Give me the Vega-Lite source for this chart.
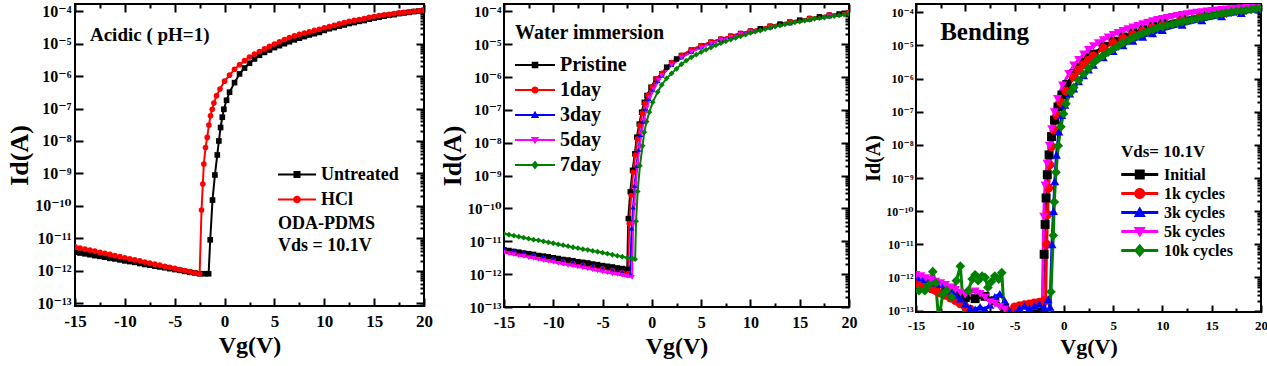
{
"$schema": "https://vega.github.io/schema/vega-lite/v6.json",
"background": "white",
"padding": {"left": 5, "top": 2, "right": 0, "bottom": 0},
"spacing": 4,
"resolve": {"scale": {"color": "independent", "shape": "independent"}, "legend": {"color": "independent", "shape": "independent"}},
"config": {
  "font": "Liberation Serif",
  "view": {"stroke": "black", "strokeWidth": 2},
  "axis": {"grid": false, "domain": false, "minExtent": 0, "labelFont": "Liberation Serif, DejaVu Serif", "labelFontWeight": "bold", "titleFont": "Liberation Serif", "titleFontWeight": "bold", "tickColor": "black", "labelColor": "black", "titleColor": "black", "tickWidth": 2, "labelFlush": false, "labelOverlap": false, "labelBound": false},
  "legend": {"labelFont": "Liberation Serif", "labelFontWeight": "bold", "titleFont": "Liberation Serif", "titleFontWeight": "bold", "labelColor": "black", "titleColor": "black", "padding": 0}
},
"datasets": {
"p1": [
{"s":"Untreated","v":-15,"i":3.7e-12},{"s":"Untreated","v":-14.5,"i":3.5e-12},{"s":"Untreated","v":-14,"i":3.3e-12},{"s":"Untreated","v":-13.5,"i":3.1e-12},{"s":"Untreated","v":-13,"i":2.9e-12},{"s":"Untreated","v":-12.5,"i":2.75e-12},{"s":"Untreated","v":-12,"i":2.6e-12},{"s":"Untreated","v":-11.5,"i":2.4e-12},{"s":"Untreated","v":-11,"i":2.3e-12},{"s":"Untreated","v":-10.5,"i":2.15e-12},{"s":"Untreated","v":-10,"i":2.0e-12},{"s":"Untreated","v":-9.5,"i":1.9e-12},{"s":"Untreated","v":-9,"i":1.8e-12},{"s":"Untreated","v":-8.5,"i":1.66e-12},{"s":"Untreated","v":-8,"i":1.55e-12},{"s":"Untreated","v":-7.5,"i":1.48e-12},{"s":"Untreated","v":-7,"i":1.38e-12},{"s":"Untreated","v":-6.5,"i":1.3e-12},{"s":"Untreated","v":-6,"i":1.23e-12},{"s":"Untreated","v":-5.5,"i":1.15e-12},{"s":"Untreated","v":-5,"i":1.08e-12},{"s":"Untreated","v":-4.5,"i":1.02e-12},{"s":"Untreated","v":-4,"i":9.5e-13},{"s":"Untreated","v":-3.5,"i":8.9e-13},{"s":"Untreated","v":-3,"i":8.5e-13},{"s":"Untreated","v":-2.5,"i":8e-13},{"s":"Untreated","v":-2,"i":8e-13},{"s":"Untreated","v":-1.6,"i":8e-13},{"s":"Untreated","v":-1.44,"i":8.9e-12},{"s":"Untreated","v":-1.21,"i":1.5e-10},{"s":"Untreated","v":-0.97,"i":8.9e-10},{"s":"Untreated","v":-0.73,"i":3.7e-9},{"s":"Untreated","v":-0.57,"i":1e-8},{"s":"Untreated","v":-0.4,"i":2.6e-8},{"s":"Untreated","v":-0.23,"i":5.4e-8},{"s":"Untreated","v":-0.07,"i":9.5e-8},{"s":"Untreated","v":0.2,"i":1.8e-7},{"s":"Untreated","v":0.5,"i":3.2e-7},{"s":"Untreated","v":1,"i":6.3e-7},{"s":"Untreated","v":1.5,"i":1.17e-6},{"s":"Untreated","v":2,"i":1.78e-6},{"s":"Untreated","v":2.5,"i":2.5e-6},{"s":"Untreated","v":3,"i":3.4e-6},{"s":"Untreated","v":3.5,"i":4.4e-6},{"s":"Untreated","v":4,"i":5.4e-6},{"s":"Untreated","v":4.5,"i":6.4e-6},{"s":"Untreated","v":5,"i":7.6e-6},{"s":"Untreated","v":5.5,"i":8.7e-6},{"s":"Untreated","v":6,"i":1.0e-5},{"s":"Untreated","v":6.5,"i":1.15e-5},{"s":"Untreated","v":7,"i":1.32e-5},{"s":"Untreated","v":7.5,"i":1.48e-5},{"s":"Untreated","v":8,"i":1.66e-5},{"s":"Untreated","v":8.5,"i":1.86e-5},{"s":"Untreated","v":9,"i":2.04e-5},{"s":"Untreated","v":9.5,"i":2.24e-5},{"s":"Untreated","v":10,"i":2.57e-5},{"s":"Untreated","v":10.5,"i":2.9e-5},{"s":"Untreated","v":11,"i":3.16e-5},{"s":"Untreated","v":11.5,"i":3.5e-5},{"s":"Untreated","v":12,"i":3.8e-5},{"s":"Untreated","v":12.5,"i":4.2e-5},{"s":"Untreated","v":13,"i":4.5e-5},{"s":"Untreated","v":13.5,"i":4.9e-5},{"s":"Untreated","v":14,"i":5.2e-5},{"s":"Untreated","v":14.5,"i":5.75e-5},{"s":"Untreated","v":15,"i":6.2e-5},{"s":"Untreated","v":15.5,"i":6.6e-5},{"s":"Untreated","v":16,"i":7.1e-5},{"s":"Untreated","v":16.5,"i":7.6e-5},{"s":"Untreated","v":17,"i":7.9e-5},{"s":"Untreated","v":17.5,"i":8.5e-5},{"s":"Untreated","v":18,"i":8.9e-5},{"s":"Untreated","v":18.5,"i":9.3e-5},{"s":"Untreated","v":19,"i":9.8e-5},{"s":"Untreated","v":19.5,"i":1.02e-4},{"s":"Untreated","v":20,"i":1.07e-4},
{"s":"HCl","v":-15,"i":5.4e-12},{"s":"HCl","v":-14.5,"i":5.0e-12},{"s":"HCl","v":-14,"i":4.6e-12},{"s":"HCl","v":-13.5,"i":4.3e-12},{"s":"HCl","v":-13,"i":4.0e-12},{"s":"HCl","v":-12.5,"i":3.65e-12},{"s":"HCl","v":-12,"i":3.4e-12},{"s":"HCl","v":-11.5,"i":3.16e-12},{"s":"HCl","v":-11,"i":2.9e-12},{"s":"HCl","v":-10.5,"i":2.7e-12},{"s":"HCl","v":-10,"i":2.5e-12},{"s":"HCl","v":-9.5,"i":2.3e-12},{"s":"HCl","v":-9,"i":2.14e-12},{"s":"HCl","v":-8.5,"i":2.0e-12},{"s":"HCl","v":-8,"i":1.85e-12},{"s":"HCl","v":-7.5,"i":1.7e-12},{"s":"HCl","v":-7,"i":1.58e-12},{"s":"HCl","v":-6.5,"i":1.47e-12},{"s":"HCl","v":-6,"i":1.35e-12},{"s":"HCl","v":-5.5,"i":1.26e-12},{"s":"HCl","v":-5,"i":1.17e-12},{"s":"HCl","v":-4.5,"i":1.07e-12},{"s":"HCl","v":-4,"i":1.0e-12},{"s":"HCl","v":-3.5,"i":9.3e-13},{"s":"HCl","v":-3,"i":8.5e-13},{"s":"HCl","v":-2.5,"i":8e-13},{"s":"HCl","v":-2.31,"i":7.4e-11},{"s":"HCl","v":-2.18,"i":4.7e-10},{"s":"HCl","v":-2.08,"i":1.95e-9},{"s":"HCl","v":-1.91,"i":6.3e-9},{"s":"HCl","v":-1.74,"i":1.29e-8},{"s":"HCl","v":-1.57,"i":3.1e-8},{"s":"HCl","v":-1.41,"i":6.0e-8},{"s":"HCl","v":-1.24,"i":9.5e-8},{"s":"HCl","v":-1.07,"i":1.48e-7},{"s":"HCl","v":-0.8,"i":2.5e-7},{"s":"HCl","v":-0.46,"i":4.0e-7},{"s":"HCl","v":0,"i":7.0e-7},{"s":"HCl","v":0.5,"i":1.07e-6},{"s":"HCl","v":1,"i":1.62e-6},{"s":"HCl","v":1.5,"i":2.24e-6},{"s":"HCl","v":2,"i":3.0e-6},{"s":"HCl","v":2.5,"i":3.9e-6},{"s":"HCl","v":3,"i":4.8e-6},{"s":"HCl","v":3.5,"i":5.75e-6},{"s":"HCl","v":4,"i":6.9e-6},{"s":"HCl","v":4.5,"i":8.3e-6},{"s":"HCl","v":5,"i":9.8e-6},{"s":"HCl","v":5.5,"i":1.15e-5},{"s":"HCl","v":6,"i":1.35e-5},{"s":"HCl","v":6.5,"i":1.55e-5},{"s":"HCl","v":7,"i":1.74e-5},{"s":"HCl","v":7.5,"i":1.95e-5},{"s":"HCl","v":8,"i":2.14e-5},{"s":"HCl","v":8.5,"i":2.34e-5},{"s":"HCl","v":9,"i":2.57e-5},{"s":"HCl","v":9.5,"i":2.8e-5},{"s":"HCl","v":10,"i":3.1e-5},{"s":"HCl","v":10.5,"i":3.4e-5},{"s":"HCl","v":11,"i":3.7e-5},{"s":"HCl","v":11.5,"i":4.1e-5},{"s":"HCl","v":12,"i":4.5e-5},{"s":"HCl","v":12.5,"i":4.9e-5},{"s":"HCl","v":13,"i":5.25e-5},{"s":"HCl","v":13.5,"i":5.6e-5},{"s":"HCl","v":14,"i":6.0e-5},{"s":"HCl","v":14.5,"i":6.5e-5},{"s":"HCl","v":15,"i":6.9e-5},{"s":"HCl","v":15.5,"i":7.4e-5},{"s":"HCl","v":16,"i":7.8e-5},{"s":"HCl","v":16.5,"i":8.1e-5},{"s":"HCl","v":17,"i":8.5e-5},{"s":"HCl","v":17.5,"i":8.9e-5},{"s":"HCl","v":18,"i":9.3e-5},{"s":"HCl","v":18.5,"i":9.6e-5},{"s":"HCl","v":19,"i":1.0e-4},{"s":"HCl","v":19.5,"i":1.03e-4},{"s":"HCl","v":20,"i":1.07e-4}
],
"p2": [
{"s":"Pristine","v":-15,"i":5.5e-12},{"s":"Pristine","v":-14.5,"i":5.25e-12},{"s":"Pristine","v":-14,"i":4.9e-12},{"s":"Pristine","v":-13.5,"i":4.7e-12},{"s":"Pristine","v":-13,"i":4.4e-12},{"s":"Pristine","v":-12.5,"i":4.2e-12},{"s":"Pristine","v":-12,"i":4.0e-12},{"s":"Pristine","v":-11.5,"i":3.7e-12},{"s":"Pristine","v":-11,"i":3.55e-12},{"s":"Pristine","v":-10.5,"i":3.4e-12},{"s":"Pristine","v":-10,"i":3.16e-12},{"s":"Pristine","v":-9.5,"i":3.0e-12},{"s":"Pristine","v":-9,"i":2.8e-12},{"s":"Pristine","v":-8.5,"i":2.7e-12},{"s":"Pristine","v":-8,"i":2.57e-12},{"s":"Pristine","v":-7.5,"i":2.4e-12},{"s":"Pristine","v":-7,"i":2.3e-12},{"s":"Pristine","v":-6.5,"i":2.2e-12},{"s":"Pristine","v":-6,"i":2.04e-12},{"s":"Pristine","v":-5.5,"i":1.95e-12},{"s":"Pristine","v":-5,"i":1.82e-12},{"s":"Pristine","v":-4.5,"i":1.74e-12},{"s":"Pristine","v":-4,"i":1.66e-12},{"s":"Pristine","v":-3.5,"i":1.55e-12},{"s":"Pristine","v":-3,"i":1.48e-12},{"s":"Pristine","v":-2.5,"i":1.41e-12},{"s":"Pristine","v":-2.39,"i":4.9e-11},{"s":"Pristine","v":-2.19,"i":3.2e-10},{"s":"Pristine","v":-1.96,"i":1.45e-9},{"s":"Pristine","v":-1.73,"i":4.6e-9},{"s":"Pristine","v":-1.53,"i":1.48e-8},{"s":"Pristine","v":-1.28,"i":3.7e-8},{"s":"Pristine","v":-1.04,"i":8.5e-8},{"s":"Pristine","v":-0.77,"i":1.7e-7},{"s":"Pristine","v":-0.5,"i":2.75e-7},{"s":"Pristine","v":-0.09,"i":4.9e-7},{"s":"Pristine","v":0.42,"i":8.7e-7},{"s":"Pristine","v":1,"i":1.26e-6},{"s":"Pristine","v":1.5,"i":2.0e-6},{"s":"Pristine","v":2,"i":2.7e-6},{"s":"Pristine","v":2.5,"i":3.55e-6},{"s":"Pristine","v":3,"i":4.5e-6},{"s":"Pristine","v":4,"i":6.6e-6},{"s":"Pristine","v":5,"i":8.9e-6},{"s":"Pristine","v":6,"i":1.15e-5},{"s":"Pristine","v":7,"i":1.41e-5},{"s":"Pristine","v":8,"i":1.74e-5},{"s":"Pristine","v":9,"i":2.1e-5},{"s":"Pristine","v":10,"i":2.5e-5},{"s":"Pristine","v":11,"i":2.95e-5},{"s":"Pristine","v":12,"i":3.5e-5},{"s":"Pristine","v":13,"i":4.1e-5},{"s":"Pristine","v":14,"i":4.7e-5},{"s":"Pristine","v":15,"i":5.4e-5},{"s":"Pristine","v":16,"i":6.0e-5},{"s":"Pristine","v":17,"i":6.8e-5},{"s":"Pristine","v":18,"i":7.6e-5},{"s":"Pristine","v":19,"i":8.3e-5},{"s":"Pristine","v":20,"i":9.1e-5},
{"s":"1day","v":-15,"i":5.0e-12},{"s":"1day","v":-14,"i":4.5e-12},{"s":"1day","v":-13,"i":3.9e-12},{"s":"1day","v":-12,"i":3.5e-12},{"s":"1day","v":-11,"i":3.0e-12},{"s":"1day","v":-10,"i":2.7e-12},{"s":"1day","v":-9,"i":2.4e-12},{"s":"1day","v":-8,"i":2.1e-12},{"s":"1day","v":-7,"i":1.86e-12},{"s":"1day","v":-6,"i":1.62e-12},{"s":"1day","v":-5,"i":1.45e-12},{"s":"1day","v":-4,"i":1.29e-12},{"s":"1day","v":-3,"i":1.12e-12},{"s":"1day","v":-2.4,"i":1.05e-12},{"s":"1day","v":-2.3,"i":3.5e-11},{"s":"1day","v":-2.1,"i":2.5e-10},{"s":"1day","v":-1.9,"i":1.26e-9},{"s":"1day","v":-1.68,"i":4.2e-9},{"s":"1day","v":-1.47,"i":1.3e-8},{"s":"1day","v":-1.22,"i":3.4e-8},{"s":"1day","v":-0.98,"i":7.9e-8},{"s":"1day","v":-0.7,"i":1.6e-7},{"s":"1day","v":-0.4,"i":2.8e-7},{"s":"1day","v":0,"i":5.0e-7},{"s":"1day","v":0.5,"i":8.9e-7},{"s":"1day","v":1,"i":1.3e-6},{"s":"1day","v":2,"i":2.75e-6},{"s":"1day","v":3,"i":4.6e-6},{"s":"1day","v":4,"i":6.8e-6},{"s":"1day","v":5,"i":9.1e-6},{"s":"1day","v":6,"i":1.17e-5},{"s":"1day","v":7,"i":1.45e-5},{"s":"1day","v":8,"i":1.78e-5},{"s":"1day","v":9,"i":2.14e-5},{"s":"1day","v":10,"i":2.57e-5},{"s":"1day","v":12,"i":3.6e-5},{"s":"1day","v":14,"i":4.8e-5},{"s":"1day","v":16,"i":6.2e-5},{"s":"1day","v":18,"i":7.8e-5},{"s":"1day","v":20,"i":9.3e-5},
{"s":"3day","v":-15,"i":6.0e-12},{"s":"3day","v":-14,"i":5.25e-12},{"s":"3day","v":-13,"i":4.6e-12},{"s":"3day","v":-12,"i":4.0e-12},{"s":"3day","v":-11,"i":3.5e-12},{"s":"3day","v":-10,"i":3.0e-12},{"s":"3day","v":-9,"i":2.6e-12},{"s":"3day","v":-8,"i":2.3e-12},{"s":"3day","v":-7,"i":2.0e-12},{"s":"3day","v":-6,"i":1.74e-12},{"s":"3day","v":-5,"i":1.5e-12},{"s":"3day","v":-4,"i":1.32e-12},{"s":"3day","v":-3,"i":1.15e-12},{"s":"3day","v":-2.2,"i":1.02e-12},{"s":"3day","v":-2.05,"i":2.5e-11},{"s":"3day","v":-1.9,"i":1.1e-10},{"s":"3day","v":-1.75,"i":5e-10},{"s":"3day","v":-1.55,"i":2e-9},{"s":"3day","v":-1.35,"i":6.3e-9},{"s":"3day","v":-1.15,"i":1.78e-8},{"s":"3day","v":-0.9,"i":4.5e-8},{"s":"3day","v":-0.6,"i":1.12e-7},{"s":"3day","v":-0.3,"i":2.2e-7},{"s":"3day","v":0.1,"i":4.2e-7},{"s":"3day","v":0.6,"i":7.6e-7},{"s":"3day","v":1,"i":1.12e-6},{"s":"3day","v":2,"i":2.4e-6},{"s":"3day","v":3,"i":4.0e-6},{"s":"3day","v":4,"i":5.9e-6},{"s":"3day","v":5,"i":8.1e-6},{"s":"3day","v":6,"i":1.07e-5},{"s":"3day","v":7,"i":1.35e-5},{"s":"3day","v":8,"i":1.66e-5},{"s":"3day","v":9,"i":2.0e-5},{"s":"3day","v":10,"i":2.4e-5},{"s":"3day","v":12,"i":3.3e-5},{"s":"3day","v":14,"i":4.4e-5},{"s":"3day","v":16,"i":5.75e-5},{"s":"3day","v":18,"i":7.1e-5},{"s":"3day","v":20,"i":8.7e-5},
{"s":"5day","v":-15,"i":4.5e-12},{"s":"5day","v":-14.5,"i":4.2e-12},{"s":"5day","v":-14,"i":3.9e-12},{"s":"5day","v":-13.5,"i":3.6e-12},{"s":"5day","v":-13,"i":3.5e-12},{"s":"5day","v":-12.5,"i":3.2e-12},{"s":"5day","v":-12,"i":3.0e-12},{"s":"5day","v":-11.5,"i":2.8e-12},{"s":"5day","v":-11,"i":2.6e-12},{"s":"5day","v":-10.5,"i":2.45e-12},{"s":"5day","v":-10,"i":2.3e-12},{"s":"5day","v":-9.5,"i":2.14e-12},{"s":"5day","v":-9,"i":2.0e-12},{"s":"5day","v":-8.5,"i":1.86e-12},{"s":"5day","v":-8,"i":1.78e-12},{"s":"5day","v":-7.5,"i":1.66e-12},{"s":"5day","v":-7,"i":1.55e-12},{"s":"5day","v":-6.5,"i":1.45e-12},{"s":"5day","v":-6,"i":1.35e-12},{"s":"5day","v":-5.5,"i":1.26e-12},{"s":"5day","v":-5,"i":1.17e-12},{"s":"5day","v":-4.5,"i":1.1e-12},{"s":"5day","v":-4,"i":1.02e-12},{"s":"5day","v":-3.5,"i":9.8e-13},{"s":"5day","v":-3,"i":9.1e-13},{"s":"5day","v":-2.5,"i":8.5e-13},{"s":"5day","v":-2,"i":8e-13},{"s":"5day","v":-1.9,"i":3.2e-11},{"s":"5day","v":-1.78,"i":1.26e-10},{"s":"5day","v":-1.62,"i":5.6e-10},{"s":"5day","v":-1.45,"i":2.2e-9},{"s":"5day","v":-1.25,"i":7.1e-9},{"s":"5day","v":-1.05,"i":1.9e-8},{"s":"5day","v":-0.8,"i":4.8e-8},{"s":"5day","v":-0.5,"i":1.17e-7},{"s":"5day","v":-0.2,"i":2.3e-7},{"s":"5day","v":0.2,"i":4.3e-7},{"s":"5day","v":0.7,"i":7.9e-7},{"s":"5day","v":1,"i":1.1e-6},{"s":"5day","v":2,"i":2.3e-6},{"s":"5day","v":3,"i":3.9e-6},{"s":"5day","v":4,"i":5.75e-6},{"s":"5day","v":5,"i":7.9e-6},{"s":"5day","v":6,"i":1.05e-5},{"s":"5day","v":7,"i":1.32e-5},{"s":"5day","v":8,"i":1.62e-5},{"s":"5day","v":9,"i":1.95e-5},{"s":"5day","v":10,"i":2.34e-5},{"s":"5day","v":12,"i":3.2e-5},{"s":"5day","v":14,"i":4.3e-5},{"s":"5day","v":16,"i":5.6e-5},{"s":"5day","v":18,"i":7.0e-5},{"s":"5day","v":20,"i":8.5e-5},
{"s":"7day","v":-15,"i":1.7e-11},{"s":"7day","v":-14.5,"i":1.58e-11},{"s":"7day","v":-14,"i":1.48e-11},{"s":"7day","v":-13.5,"i":1.38e-11},{"s":"7day","v":-13,"i":1.29e-11},{"s":"7day","v":-12.5,"i":1.2e-11},{"s":"7day","v":-12,"i":1.12e-11},{"s":"7day","v":-11.5,"i":1.07e-11},{"s":"7day","v":-11,"i":1.0e-11},{"s":"7day","v":-10.5,"i":9.3e-12},{"s":"7day","v":-10,"i":8.7e-12},{"s":"7day","v":-9.5,"i":8.1e-12},{"s":"7day","v":-9,"i":7.6e-12},{"s":"7day","v":-8.5,"i":7.1e-12},{"s":"7day","v":-8,"i":6.6e-12},{"s":"7day","v":-7.5,"i":6.2e-12},{"s":"7day","v":-7,"i":5.75e-12},{"s":"7day","v":-6.5,"i":5.5e-12},{"s":"7day","v":-6,"i":5.1e-12},{"s":"7day","v":-5.5,"i":4.8e-12},{"s":"7day","v":-5,"i":4.5e-12},{"s":"7day","v":-4.5,"i":4.2e-12},{"s":"7day","v":-4,"i":3.9e-12},{"s":"7day","v":-3.5,"i":3.6e-12},{"s":"7day","v":-3,"i":3.4e-12},{"s":"7day","v":-2.5,"i":3.16e-12},{"s":"7day","v":-2,"i":3.0e-12},{"s":"7day","v":-1.7,"i":2.85e-12},{"s":"7day","v":-1.6,"i":4.1e-11},{"s":"7day","v":-1.44,"i":3.3e-10},{"s":"7day","v":-1.21,"i":2.0e-9},{"s":"7day","v":-0.94,"i":8.1e-9},{"s":"7day","v":-0.77,"i":2.1e-8},{"s":"7day","v":-0.53,"i":4.4e-8},{"s":"7day","v":-0.26,"i":8.5e-8},{"s":"7day","v":0.08,"i":1.7e-7},{"s":"7day","v":0.59,"i":3.5e-7},{"s":"7day","v":1,"i":5.75e-7},{"s":"7day","v":1.5,"i":9.1e-7},{"s":"7day","v":2,"i":1.29e-6},{"s":"7day","v":2.5,"i":1.78e-6},{"s":"7day","v":3,"i":2.45e-6},{"s":"7day","v":3.5,"i":3.16e-6},{"s":"7day","v":4,"i":4.0e-6},{"s":"7day","v":4.5,"i":4.8e-6},{"s":"7day","v":5,"i":5.75e-6},{"s":"7day","v":5.5,"i":6.8e-6},{"s":"7day","v":6,"i":7.9e-6},{"s":"7day","v":6.5,"i":9.3e-6},{"s":"7day","v":7,"i":1.07e-5},{"s":"7day","v":7.5,"i":1.23e-5},{"s":"7day","v":8,"i":1.38e-5},{"s":"7day","v":8.5,"i":1.55e-5},{"s":"7day","v":9,"i":1.74e-5},{"s":"7day","v":9.5,"i":1.95e-5},{"s":"7day","v":10,"i":2.2e-5},{"s":"7day","v":10.5,"i":2.4e-5},{"s":"7day","v":11,"i":2.6e-5},{"s":"7day","v":11.5,"i":2.9e-5},{"s":"7day","v":12,"i":3.16e-5},{"s":"7day","v":12.5,"i":3.4e-5},{"s":"7day","v":13,"i":3.7e-5},{"s":"7day","v":13.5,"i":4.0e-5},{"s":"7day","v":14,"i":4.4e-5},{"s":"7day","v":14.5,"i":4.6e-5},{"s":"7day","v":15,"i":4.9e-5},{"s":"7day","v":15.5,"i":5.2e-5},{"s":"7day","v":16,"i":5.5e-5},{"s":"7day","v":16.5,"i":5.9e-5},{"s":"7day","v":17,"i":6.2e-5},{"s":"7day","v":17.5,"i":6.5e-5},{"s":"7day","v":18,"i":6.9e-5},{"s":"7day","v":18.5,"i":7.2e-5},{"s":"7day","v":19,"i":7.6e-5},{"s":"7day","v":19.5,"i":7.9e-5},{"s":"7day","v":20,"i":8.3e-5}
],
"p3": [
{"s":"Initial","v":-15,"i":7e-13},{"s":"Initial","v":-14,"i":5.5e-13},{"s":"Initial","v":-13,"i":4.5e-13},{"s":"Initial","v":-12,"i":3.5e-13},{"s":"Initial","v":-11,"i":2.8e-13},{"s":"Initial","v":-10,"i":2.5e-13},{"s":"Initial","v":-9,"i":2.3e-13},{"s":"Initial","v":-8,"i":2.7e-13},{"s":"Initial","v":-7,"i":2e-13},{"s":"Initial","v":-6,"i":1.2e-13},{"s":"Initial","v":-5,"i":8e-14},{"s":"Initial","v":-3,"i":8e-14},{"s":"Initial","v":-2.2,"i":9e-14},{"s":"Initial","v":-2.0,"i":5e-12},{"s":"Initial","v":-1.9,"i":4e-11},{"s":"Initial","v":-1.8,"i":2.5e-10},{"s":"Initial","v":-1.68,"i":1.26e-9},{"s":"Initial","v":-1.5,"i":5e-9},{"s":"Initial","v":-1.25,"i":1.78e-8},{"s":"Initial","v":-0.95,"i":5.6e-8},{"s":"Initial","v":-0.6,"i":1.4e-7},{"s":"Initial","v":-0.2,"i":3.2e-7},{"s":"Initial","v":0.3,"i":6.6e-7},{"s":"Initial","v":1,"i":1.41e-6},{"s":"Initial","v":1.5,"i":2.2e-6},{"s":"Initial","v":2,"i":3.2e-6},{"s":"Initial","v":2.5,"i":4.3e-6},{"s":"Initial","v":3,"i":5.5e-6},{"s":"Initial","v":4,"i":9.5e-6},{"s":"Initial","v":5,"i":1.35e-5},{"s":"Initial","v":6,"i":1.8e-5},{"s":"Initial","v":7,"i":2.4e-5},{"s":"Initial","v":8,"i":3.0e-5},{"s":"Initial","v":9,"i":3.8e-5},{"s":"Initial","v":10,"i":4.6e-5},{"s":"Initial","v":12,"i":6.2e-5},{"s":"Initial","v":14,"i":8.1e-5},{"s":"Initial","v":16,"i":1.0e-4},{"s":"Initial","v":18,"i":1.17e-4},{"s":"Initial","v":20,"i":1.32e-4},
{"s":"1k cycles","v":-15,"i":6.6e-13},{"s":"1k cycles","v":-14.5,"i":6e-13},{"s":"1k cycles","v":-14,"i":5.3e-13},{"s":"1k cycles","v":-13.5,"i":4.6e-13},{"s":"1k cycles","v":-13,"i":4e-13},{"s":"1k cycles","v":-12.5,"i":3.4e-13},{"s":"1k cycles","v":-12,"i":2.9e-13},{"s":"1k cycles","v":-11.5,"i":2.4e-13},{"s":"1k cycles","v":-11,"i":2e-13},{"s":"1k cycles","v":-10.5,"i":1.6e-13},{"s":"1k cycles","v":-10,"i":1.3e-13},{"s":"1k cycles","v":-9.5,"i":1.1e-13},{"s":"1k cycles","v":-9,"i":8e-14},{"s":"1k cycles","v":-6,"i":7e-14},{"s":"1k cycles","v":-5.5,"i":9e-14},{"s":"1k cycles","v":-5,"i":1.3e-13},{"s":"1k cycles","v":-4.5,"i":1.4e-13},{"s":"1k cycles","v":-4,"i":1.5e-13},{"s":"1k cycles","v":-3.5,"i":1.6e-13},{"s":"1k cycles","v":-3,"i":1.7e-13},{"s":"1k cycles","v":-2.5,"i":1.8e-13},{"s":"1k cycles","v":-2,"i":2e-13},{"s":"1k cycles","v":-1.85,"i":2e-13},{"s":"1k cycles","v":-1.75,"i":1e-11},{"s":"1k cycles","v":-1.65,"i":7.9e-11},{"s":"1k cycles","v":-1.55,"i":5e-10},{"s":"1k cycles","v":-1.42,"i":2.5e-9},{"s":"1k cycles","v":-1.25,"i":8.9e-9},{"s":"1k cycles","v":-1,"i":2.8e-8},{"s":"1k cycles","v":-0.7,"i":7.9e-8},{"s":"1k cycles","v":-0.3,"i":1.9e-7},{"s":"1k cycles","v":0.2,"i":4.2e-7},{"s":"1k cycles","v":1,"i":1.12e-6},{"s":"1k cycles","v":1.5,"i":1.78e-6},{"s":"1k cycles","v":2,"i":2.6e-6},{"s":"1k cycles","v":2.5,"i":3.6e-6},{"s":"1k cycles","v":3,"i":4.8e-6},{"s":"1k cycles","v":4,"i":8.3e-6},{"s":"1k cycles","v":5,"i":1.2e-5},{"s":"1k cycles","v":6,"i":1.62e-5},{"s":"1k cycles","v":7,"i":2.1e-5},{"s":"1k cycles","v":8,"i":2.7e-5},{"s":"1k cycles","v":9,"i":3.4e-5},{"s":"1k cycles","v":10,"i":4.1e-5},{"s":"1k cycles","v":12,"i":5.6e-5},{"s":"1k cycles","v":14,"i":7.4e-5},{"s":"1k cycles","v":16,"i":9.3e-5},{"s":"1k cycles","v":18,"i":1.1e-4},{"s":"1k cycles","v":20,"i":1.26e-4},
{"s":"3k cycles","v":-15,"i":1.1e-12},{"s":"3k cycles","v":-14.5,"i":1e-12},{"s":"3k cycles","v":-14,"i":9e-13},{"s":"3k cycles","v":-13.5,"i":8e-13},{"s":"3k cycles","v":-13,"i":7e-13},{"s":"3k cycles","v":-12.5,"i":6.3e-13},{"s":"3k cycles","v":-12,"i":5e-13},{"s":"3k cycles","v":-11.5,"i":4e-13},{"s":"3k cycles","v":-11,"i":3e-13},{"s":"3k cycles","v":-10.5,"i":2.3e-13},{"s":"3k cycles","v":-10,"i":1.6e-13},{"s":"3k cycles","v":-9.5,"i":1.2e-13},{"s":"3k cycles","v":-9,"i":1.1e-13},{"s":"3k cycles","v":-8.5,"i":1.3e-13},{"s":"3k cycles","v":-8,"i":1.1e-13},{"s":"3k cycles","v":-7.5,"i":1.5e-13},{"s":"3k cycles","v":-7,"i":2.6e-13},{"s":"3k cycles","v":-6.5,"i":3.2e-13},{"s":"3k cycles","v":-6,"i":2e-13},{"s":"3k cycles","v":-5.5,"i":1e-13},{"s":"3k cycles","v":-5,"i":8e-14},{"s":"3k cycles","v":-4.5,"i":1.2e-13},{"s":"3k cycles","v":-4,"i":1.4e-13},{"s":"3k cycles","v":-3.5,"i":1.2e-13},{"s":"3k cycles","v":-3,"i":1.4e-13},{"s":"3k cycles","v":-2.5,"i":1.6e-13},{"s":"3k cycles","v":-2,"i":1.3e-13},{"s":"3k cycles","v":-1.6,"i":2.2e-13},{"s":"3k cycles","v":-1.4,"i":1.3e-13},{"s":"3k cycles","v":-1.2,"i":1e-11},{"s":"3k cycles","v":-1.05,"i":1e-10},{"s":"3k cycles","v":-0.92,"i":7.9e-10},{"s":"3k cycles","v":-0.75,"i":5e-9},{"s":"3k cycles","v":-0.5,"i":2.5e-8},{"s":"3k cycles","v":-0.2,"i":7.9e-8},{"s":"3k cycles","v":0.1,"i":1.6e-7},{"s":"3k cycles","v":0.6,"i":3.5e-7},{"s":"3k cycles","v":1,"i":5.0e-7},{"s":"3k cycles","v":1.5,"i":8.3e-7},{"s":"3k cycles","v":2,"i":1.26e-6},{"s":"3k cycles","v":2.5,"i":1.86e-6},{"s":"3k cycles","v":3,"i":2.6e-6},{"s":"3k cycles","v":4,"i":4.4e-6},{"s":"3k cycles","v":5,"i":6.8e-6},{"s":"3k cycles","v":6,"i":1.0e-5},{"s":"3k cycles","v":7,"i":1.38e-5},{"s":"3k cycles","v":8,"i":1.82e-5},{"s":"3k cycles","v":9,"i":2.3e-5},{"s":"3k cycles","v":10,"i":2.9e-5},{"s":"3k cycles","v":12,"i":4.2e-5},{"s":"3k cycles","v":14,"i":5.75e-5},{"s":"3k cycles","v":16,"i":7.6e-5},{"s":"3k cycles","v":18,"i":9.5e-5},{"s":"3k cycles","v":20,"i":1.17e-4},
{"s":"5k cycles","v":-15,"i":1.2e-12},{"s":"5k cycles","v":-14.5,"i":1.1e-12},{"s":"5k cycles","v":-14,"i":9.5e-13},{"s":"5k cycles","v":-13.5,"i":8.5e-13},{"s":"5k cycles","v":-13,"i":7.5e-13},{"s":"5k cycles","v":-12.5,"i":6.8e-13},{"s":"5k cycles","v":-12,"i":6e-13},{"s":"5k cycles","v":-11.5,"i":5e-13},{"s":"5k cycles","v":-11,"i":4.2e-13},{"s":"5k cycles","v":-10.5,"i":3.5e-13},{"s":"5k cycles","v":-10,"i":3e-13},{"s":"5k cycles","v":-9.5,"i":3.5e-13},{"s":"5k cycles","v":-9,"i":3.8e-13},{"s":"5k cycles","v":-8.5,"i":3.2e-13},{"s":"5k cycles","v":-8,"i":2.5e-13},{"s":"5k cycles","v":-7.5,"i":1.8e-13},{"s":"5k cycles","v":-7,"i":1.6e-13},{"s":"5k cycles","v":-6.5,"i":1.3e-13},{"s":"5k cycles","v":-6,"i":1.1e-13},{"s":"5k cycles","v":-5.5,"i":6e-14},{"s":"5k cycles","v":-2.2,"i":6e-14},{"s":"5k cycles","v":-2.05,"i":6.8e-11},{"s":"5k cycles","v":-1.91,"i":6e-10},{"s":"5k cycles","v":-1.71,"i":2.7e-9},{"s":"5k cycles","v":-1.48,"i":9.5e-9},{"s":"5k cycles","v":-1.24,"i":3e-8},{"s":"5k cycles","v":-0.97,"i":9.8e-8},{"s":"5k cycles","v":-0.64,"i":2.45e-7},{"s":"5k cycles","v":-0.14,"i":6.2e-7},{"s":"5k cycles","v":0.5,"i":1.38e-6},{"s":"5k cycles","v":1,"i":2.5e-6},{"s":"5k cycles","v":1.5,"i":3.7e-6},{"s":"5k cycles","v":2,"i":5.4e-6},{"s":"5k cycles","v":2.5,"i":7.4e-6},{"s":"5k cycles","v":3,"i":9.5e-6},{"s":"5k cycles","v":3.5,"i":1.17e-5},{"s":"5k cycles","v":4,"i":1.45e-5},{"s":"5k cycles","v":4.5,"i":1.74e-5},{"s":"5k cycles","v":5,"i":2.1e-5},{"s":"5k cycles","v":5.5,"i":2.4e-5},{"s":"5k cycles","v":6,"i":2.75e-5},{"s":"5k cycles","v":6.5,"i":3.1e-5},{"s":"5k cycles","v":7,"i":3.5e-5},{"s":"5k cycles","v":7.5,"i":3.9e-5},{"s":"5k cycles","v":8,"i":4.4e-5},{"s":"5k cycles","v":8.5,"i":4.9e-5},{"s":"5k cycles","v":9,"i":5.4e-5},{"s":"5k cycles","v":9.5,"i":5.9e-5},{"s":"5k cycles","v":10,"i":6.3e-5},{"s":"5k cycles","v":10.5,"i":6.8e-5},{"s":"5k cycles","v":11,"i":7.3e-5},{"s":"5k cycles","v":11.5,"i":7.8e-5},{"s":"5k cycles","v":12,"i":8.3e-5},{"s":"5k cycles","v":12.5,"i":8.8e-5},{"s":"5k cycles","v":13,"i":9.3e-5},{"s":"5k cycles","v":13.5,"i":9.8e-5},{"s":"5k cycles","v":14,"i":1.02e-4},{"s":"5k cycles","v":14.5,"i":1.06e-4},{"s":"5k cycles","v":15,"i":1.1e-4},{"s":"5k cycles","v":15.5,"i":1.14e-4},{"s":"5k cycles","v":16,"i":1.18e-4},{"s":"5k cycles","v":16.5,"i":1.22e-4},{"s":"5k cycles","v":17,"i":1.25e-4},{"s":"5k cycles","v":17.5,"i":1.29e-4},{"s":"5k cycles","v":18,"i":1.32e-4},{"s":"5k cycles","v":18.5,"i":1.35e-4},{"s":"5k cycles","v":19,"i":1.37e-4},{"s":"5k cycles","v":19.5,"i":1.39e-4},{"s":"5k cycles","v":20,"i":1.41e-4},
{"s":"10k cycles","v":-14.7,"i":4e-13},{"s":"10k cycles","v":-14.1,"i":4e-13},{"s":"10k cycles","v":-13.7,"i":6e-13},{"s":"10k cycles","v":-13.3,"i":1.5e-12},{"s":"10k cycles","v":-13.0,"i":7e-13},{"s":"10k cycles","v":-12.7,"i":5e-14},{"s":"10k cycles","v":-12.3,"i":3e-13},{"s":"10k cycles","v":-11.9,"i":4e-13},{"s":"10k cycles","v":-11.4,"i":2.6e-13},{"s":"10k cycles","v":-10.9,"i":8e-13},{"s":"10k cycles","v":-10.5,"i":2.2e-12},{"s":"10k cycles","v":-10.1,"i":5e-14},{"s":"10k cycles","v":-9.7,"i":4e-13},{"s":"10k cycles","v":-9.3,"i":9e-13},{"s":"10k cycles","v":-9.0,"i":1.2e-12},{"s":"10k cycles","v":-8.7,"i":8e-13},{"s":"10k cycles","v":-8.3,"i":1.1e-12},{"s":"10k cycles","v":-8.0,"i":1.0e-12},{"s":"10k cycles","v":-7.7,"i":5e-13},{"s":"10k cycles","v":-7.35,"i":7.5e-13},{"s":"10k cycles","v":-7.0,"i":1.1e-12},{"s":"10k cycles","v":-6.6,"i":9e-13},{"s":"10k cycles","v":-6.3,"i":1.4e-12},{"s":"10k cycles","v":-6.0,"i":5e-14},{"s":"10k cycles","v":-1.5,"i":5e-14},{"s":"10k cycles","v":-1.31,"i":3.7e-13},{"s":"10k cycles","v":-1.07,"i":1.86e-11},{"s":"10k cycles","v":-0.97,"i":1.9e-10},{"s":"10k cycles","v":-0.8,"i":1.5e-9},{"s":"10k cycles","v":-0.57,"i":9.5e-9},{"s":"10k cycles","v":-0.3,"i":3.5e-8},{"s":"10k cycles","v":-0.04,"i":8.7e-8},{"s":"10k cycles","v":0.21,"i":1.74e-7},{"s":"10k cycles","v":0.71,"i":3.9e-7},{"s":"10k cycles","v":1,"i":5.4e-7},{"s":"10k cycles","v":1.5,"i":8.9e-7},{"s":"10k cycles","v":2,"i":1.35e-6},{"s":"10k cycles","v":2.5,"i":2.0e-6},{"s":"10k cycles","v":3,"i":3.0e-6},{"s":"10k cycles","v":3.5,"i":4.0e-6},{"s":"10k cycles","v":4,"i":5.1e-6},{"s":"10k cycles","v":4.5,"i":6.3e-6},{"s":"10k cycles","v":5,"i":7.9e-6},{"s":"10k cycles","v":5.5,"i":9.5e-6},{"s":"10k cycles","v":6,"i":1.2e-5},{"s":"10k cycles","v":6.5,"i":1.41e-5},{"s":"10k cycles","v":7,"i":1.7e-5},{"s":"10k cycles","v":7.5,"i":1.95e-5},{"s":"10k cycles","v":8,"i":2.3e-5},{"s":"10k cycles","v":8.5,"i":2.6e-5},{"s":"10k cycles","v":9,"i":3.0e-5},{"s":"10k cycles","v":9.5,"i":3.4e-5},{"s":"10k cycles","v":10,"i":3.7e-5},{"s":"10k cycles","v":10.5,"i":4.1e-5},{"s":"10k cycles","v":11,"i":4.4e-5},{"s":"10k cycles","v":11.5,"i":4.8e-5},{"s":"10k cycles","v":12,"i":5.1e-5},{"s":"10k cycles","v":12.5,"i":5.5e-5},{"s":"10k cycles","v":13,"i":6.0e-5},{"s":"10k cycles","v":13.5,"i":6.5e-5},{"s":"10k cycles","v":14,"i":6.9e-5},{"s":"10k cycles","v":14.5,"i":7.4e-5},{"s":"10k cycles","v":15,"i":7.9e-5},{"s":"10k cycles","v":15.5,"i":8.5e-5},{"s":"10k cycles","v":16,"i":8.9e-5},{"s":"10k cycles","v":16.5,"i":9.5e-5},{"s":"10k cycles","v":17,"i":1.02e-4},{"s":"10k cycles","v":17.5,"i":1.07e-4},{"s":"10k cycles","v":18,"i":1.12e-4},{"s":"10k cycles","v":18.5,"i":1.17e-4},{"s":"10k cycles","v":19,"i":1.23e-4},{"s":"10k cycles","v":19.5,"i":1.29e-4},{"s":"10k cycles","v":20,"i":1.32e-4}
]
},
"hconcat": [
{
 "width": 349, "height": 302,
 "data": {"name": "p1"},
 "layer": [
  {"mark": {"type": "point", "filled": true, "opacity": 0, "size": 10},
   "encoding": {
    "x": {"field": "v", "type": "quantitative", "scale": {"domain": [-15, 20], "nice": false, "zero": false}, "axis": {"orient": "top", "values": [-15,-12.5,-10,-7.5,-5,-2.5,0,2.5,5,7.5,10,12.5,15,17.5,20], "labels": false, "tickSize": {"condition": {"test": "datum.value % 5 === 0", "value": -8}, "value": -4}, "title": null}},
    "y": {"field": "i", "type": "quantitative", "scale": {"type": "log", "domain": [8.1e-14, 1.68e-4], "nice": false}, "axis": {"orient": "right", "tickCount": 100, "labels": false, "tickSize": {"condition": {"test": "abs(log(datum.value)/LN10 - round(log(datum.value)/LN10)) < 0.001", "value": -8}, "value": -4}, "title": null}},
    "color": {"field": "s", "type": "nominal", "scale": {"domain": ["Untreated", "HCl"], "range": ["#000000", "#ff0000"]}, "legend": {"orient": "none", "legendX": 203, "legendY": 161, "title": ["ODA-PDMS", "Vds = 10.1V"], "titleOrient": "bottom", "titleAnchor": "start", "titleAlign": "left", "titleFontSize": 18, "titleLineHeight": 22, "titlePadding": 6, "labelFontSize": 18, "symbolSize": 361, "symbolStrokeWidth": 0, "symbolOpacity": 1, "rowPadding": 6, "labelOffset": 24}},
    "shape": {"field": "s", "type": "nominal", "scale": {"domain": ["Untreated", "HCl"], "range": ["M-1,-0.105H3V0.105H-1Z M0.63,-0.37H1.37V0.37H0.63Z", "M-1,-0.105H3V0.105H-1Z M0.6,0A0.4,0.4 0 1,1 1.4,0A0.4,0.4 0 1,1 0.6,0Z"]}}
   }},
  {"mark": {"type": "line", "strokeWidth": 2, "clip": true},
   "encoding": {
    "x": {"field": "v", "type": "quantitative", "axis": {"orient": "bottom", "values": [-15,-12.5,-10,-7.5,-5,-2.5,0,2.5,5,7.5,10,12.5,15,17.5,20], "labelExpr": "datum.value % 5 === 0 ? '' + datum.value : ''", "tickSize": {"condition": {"test": "datum.value % 5 === 0", "value": -8}, "value": -4}, "labelPadding": 15, "labelFontSize": 17, "title": "Vg(V)", "titleFontSize": 24, "titlePadding": 0}},
    "y": {"field": "i", "type": "quantitative", "axis": {"orient": "left", "values": [1e-13,1e-12,1e-11,1e-10,1e-9,1e-8,1e-7,1e-6,1e-5,1e-4], "labelExpr": "'10' + replace(replace(replace(replace(replace(replace(replace(replace(replace(replace(replace('' + round(log(datum.value)/LN10), '-', '⁻'), regexp('0','g'), '⁰'), regexp('1','g'), '¹'), regexp('2','g'), '²'), regexp('3','g'), '³'), regexp('4','g'), '⁴'), regexp('5','g'), '⁵'), regexp('6','g'), '⁶'), regexp('7','g'), '⁷'), regexp('8','g'), '⁸'), regexp('9','g'), '⁹')", "tickSize": -8, "labelPadding": 12, "labelFontSize": 16, "title": "Id(A)", "titleFontSize": 26, "titlePadding": 2}},
    "color": {"field": "s", "type": "nominal"}
   }},
  {"transform": [{"filter": "datum.s === 'Untreated'"}], "mark": {"type": "point", "shape": "square", "filled": true, "opacity": 1, "size": 32, "clip": true},
   "encoding": {"x": {"field": "v", "type": "quantitative", "axis": null}, "y": {"field": "i", "type": "quantitative", "axis": null}, "color": {"field": "s", "type": "nominal"}}},
  {"transform": [{"filter": "datum.s === 'HCl'"}], "mark": {"type": "point", "shape": "circle", "filled": true, "opacity": 1, "size": 32, "clip": true},
   "encoding": {"x": {"field": "v", "type": "quantitative", "axis": null}, "y": {"field": "i", "type": "quantitative", "axis": null}, "color": {"field": "s", "type": "nominal"}}},
  {"data": {"values": [{"t": "Acidic ( pH=1)"}]},
   "mark": {"type": "text", "align": "left", "baseline": "middle", "font": "Liberation Serif", "fontWeight": "bold", "fontSize": 19, "color": "black"},
   "encoding": {"x": {"datum": -13.5, "type": "quantitative", "axis": null}, "y": {"datum": 1.86e-5, "type": "quantitative", "axis": null}, "text": {"field": "t"}}}
 ],
 "resolve": {"axis": {"x": "independent", "y": "independent"}}
},
{
 "width": 345, "height": 303,
 "data": {"name": "p2"},
 "layer": [
  {"mark": {"type": "point", "filled": true, "opacity": 0, "size": 10},
   "encoding": {
    "x": {"field": "v", "type": "quantitative", "scale": {"domain": [-15, 20], "nice": false, "zero": false}, "axis": {"orient": "top", "values": [-15,-12.5,-10,-7.5,-5,-2.5,0,2.5,5,7.5,10,12.5,15,17.5,20], "labels": false, "tickSize": {"condition": {"test": "datum.value % 5 === 0", "value": -8}, "value": -4}, "title": null}},
    "y": {"field": "i", "type": "quantitative", "scale": {"type": "log", "domain": [1e-13, 1.67e-4], "nice": false}, "axis": {"orient": "right", "tickCount": 100, "labels": false, "tickSize": {"condition": {"test": "abs(log(datum.value)/LN10 - round(log(datum.value)/LN10)) < 0.001", "value": -8}, "value": -4}, "title": null}},
    "color": {"field": "s", "type": "nominal", "scale": {"domain": ["Pristine", "1day", "3day", "5day", "7day"], "range": ["#000000", "#ff0000", "#0000ff", "#ff00ff", "#008000"]}, "legend": {"orient": "none", "legendX": 11, "legendY": 19, "title": "Water immersion", "titleFontSize": 20, "titlePadding": 12, "titleAnchor": "start", "labelFontSize": 20, "symbolSize": 400, "symbolStrokeWidth": 0, "symbolOpacity": 1, "rowPadding": 5, "labelOffset": 25}},
    "shape": {"field": "s", "type": "nominal", "scale": {"domain": ["Pristine", "1day", "3day", "5day", "7day"], "range": ["M-1,-0.1H3V0.1H-1Z M0.67,-0.33H1.33V0.33H0.67Z", "M-1,-0.1H3V0.1H-1Z M0.64,0A0.36,0.36 0 1,1 1.36,0A0.36,0.36 0 1,1 0.64,0Z", "M-1,-0.1H3V0.1H-1Z M1,-0.42L1.42,0.3H0.58Z", "M-1,-0.1H3V0.1H-1Z M0.58,-0.3H1.42L1,0.42Z", "M-1,-0.1H3V0.1H-1Z M1,-0.44L1.36,0L1,0.44L0.64,0Z"]}}
   }},
  {"mark": {"type": "line", "strokeWidth": 2, "clip": true},
   "encoding": {
    "x": {"field": "v", "type": "quantitative", "axis": {"orient": "bottom", "values": [-15,-12.5,-10,-7.5,-5,-2.5,0,2.5,5,7.5,10,12.5,15,17.5,20], "labelExpr": "datum.value % 5 === 0 ? '' + datum.value : ''", "tickSize": {"condition": {"test": "datum.value % 5 === 0", "value": -8}, "value": -4}, "labelPadding": 15, "labelFontSize": 16, "title": "Vg(V)", "titleFontSize": 24, "titlePadding": 0}},
    "y": {"field": "i", "type": "quantitative", "axis": {"orient": "left", "values": [1e-13,1e-12,1e-11,1e-10,1e-9,1e-8,1e-7,1e-6,1e-5,1e-4], "labelExpr": "'10' + replace(replace(replace(replace(replace(replace(replace(replace(replace(replace(replace('' + round(log(datum.value)/LN10), '-', '⁻'), regexp('0','g'), '⁰'), regexp('1','g'), '¹'), regexp('2','g'), '²'), regexp('3','g'), '³'), regexp('4','g'), '⁴'), regexp('5','g'), '⁵'), regexp('6','g'), '⁶'), regexp('7','g'), '⁷'), regexp('8','g'), '⁸'), regexp('9','g'), '⁹')", "tickSize": -8, "labelPadding": 11, "labelFontSize": 15, "title": "Id(A)", "titleFontSize": 26, "titlePadding": 2}},
    "color": {"field": "s", "type": "nominal"}
   }},
  {"transform": [{"filter": "datum.s === 'Pristine'"}], "mark": {"type": "point", "shape": "square", "filled": true, "opacity": 1, "size": 30, "clip": true},
   "encoding": {"x": {"field": "v", "type": "quantitative", "axis": null}, "y": {"field": "i", "type": "quantitative", "axis": null}, "color": {"field": "s", "type": "nominal"}}},
  {"transform": [{"filter": "datum.s === '1day'"}], "mark": {"type": "point", "shape": "circle", "filled": true, "opacity": 1, "size": 30, "clip": true},
   "encoding": {"x": {"field": "v", "type": "quantitative", "axis": null}, "y": {"field": "i", "type": "quantitative", "axis": null}, "color": {"field": "s", "type": "nominal"}}},
  {"transform": [{"filter": "datum.s === '3day'"}], "mark": {"type": "point", "shape": "triangle-up", "filled": true, "opacity": 1, "size": 30, "clip": true},
   "encoding": {"x": {"field": "v", "type": "quantitative", "axis": null}, "y": {"field": "i", "type": "quantitative", "axis": null}, "color": {"field": "s", "type": "nominal"}}},
  {"transform": [{"filter": "datum.s === '5day'"}], "mark": {"type": "point", "shape": "triangle-down", "filled": true, "opacity": 1, "size": 30, "clip": true},
   "encoding": {"x": {"field": "v", "type": "quantitative", "axis": null}, "y": {"field": "i", "type": "quantitative", "axis": null}, "color": {"field": "s", "type": "nominal"}}},
  {"transform": [{"filter": "datum.s === '7day'"}], "mark": {"type": "point", "shape": "diamond", "filled": true, "opacity": 1, "size": 34, "clip": true},
   "encoding": {"x": {"field": "v", "type": "quantitative", "axis": null}, "y": {"field": "i", "type": "quantitative", "axis": null}, "color": {"field": "s", "type": "nominal"}}}
 ],
 "resolve": {"axis": {"x": "independent", "y": "independent"}}
},
{
 "width": 345, "height": 308,
 "data": {"name": "p3"},
 "layer": [
  {"mark": {"type": "point", "filled": true, "opacity": 0, "size": 10},
   "encoding": {
    "x": {"field": "v", "type": "quantitative", "scale": {"domain": [-15, 20], "nice": false, "zero": false}, "axis": {"orient": "top", "values": [-15,-12.5,-10,-7.5,-5,-2.5,0,2.5,5,7.5,10,12.5,15,17.5,20], "labels": false, "tickSize": {"condition": {"test": "datum.value % 5 === 0", "value": -7}, "value": -4}, "title": null}},
    "y": {"field": "i", "type": "quantitative", "scale": {"type": "log", "domain": [9.1e-14, 1.78e-4], "nice": false}, "axis": {"orient": "right", "tickCount": 100, "labels": false, "tickSize": {"condition": {"test": "abs(log(datum.value)/LN10 - round(log(datum.value)/LN10)) < 0.001", "value": -7}, "value": -4}, "title": null}},
    "color": {"field": "s", "type": "nominal", "scale": {"domain": ["Initial", "1k cycles", "3k cycles", "5k cycles", "10k cycles"], "range": ["#000000", "#ff0000", "#0000ff", "#ff00ff", "#008000"]}, "legend": {"orient": "none", "legendX": 205, "legendY": 140, "title": "Vds= 10.1V", "titleFontSize": 17, "titlePadding": 4, "titleAnchor": "start", "labelFontSize": 16, "symbolSize": 342, "symbolStrokeWidth": 0, "symbolOpacity": 1, "rowPadding": 1, "labelOffset": 24}},
    "shape": {"field": "s", "type": "nominal", "scale": {"domain": ["Initial", "1k cycles", "3k cycles", "5k cycles", "10k cycles"], "range": ["M-1,-0.16H3V0.16H-1Z M0.46,-0.54H1.54V0.54H0.46Z", "M-1,-0.16H3V0.16H-1Z M0.4,0A0.6,0.6 0 1,1 1.6,0A0.6,0.6 0 1,1 0.4,0Z", "M-1,-0.16H3V0.16H-1Z M1,-0.66L1.66,0.5H0.34Z", "M-1,-0.16H3V0.16H-1Z M0.34,-0.5H1.66L1,0.66Z", "M-1,-0.16H3V0.16H-1Z M1,-0.72L1.62,0L1,0.72L0.38,0Z"]}}
   }},
  {"mark": {"type": "line", "strokeWidth": 3, "clip": true},
   "encoding": {
    "x": {"field": "v", "type": "quantitative", "axis": {"orient": "bottom", "values": [-15,-12.5,-10,-7.5,-5,-2.5,0,2.5,5,7.5,10,12.5,15,17.5,20], "labelExpr": "datum.value % 5 === 0 ? '' + datum.value : ''", "tickSize": {"condition": {"test": "datum.value % 5 === 0", "value": -7}, "value": -4}, "labelPadding": 14, "labelFontSize": 13, "title": "Vg(V)", "titleFontSize": 22, "titlePadding": 1}},
    "y": {"field": "i", "type": "quantitative", "axis": {"orient": "left", "values": [1e-13,1e-12,1e-11,1e-10,1e-9,1e-8,1e-7,1e-6,1e-5,1e-4], "labelExpr": "'10' + replace(replace(replace(replace(replace(replace(replace(replace(replace(replace(replace('' + round(log(datum.value)/LN10), '-', '⁻'), regexp('0','g'), '⁰'), regexp('1','g'), '¹'), regexp('2','g'), '²'), regexp('3','g'), '³'), regexp('4','g'), '⁴'), regexp('5','g'), '⁵'), regexp('6','g'), '⁶'), regexp('7','g'), '⁷'), regexp('8','g'), '⁸'), regexp('9','g'), '⁹')", "tickSize": -7, "labelPadding": 10, "labelFontSize": 12, "title": "Id(A)", "titleFontSize": 20, "titlePadding": 2}},
    "color": {"field": "s", "type": "nominal"}
   }},
  {"transform": [{"filter": "datum.s === 'Initial'"}], "mark": {"type": "point", "shape": "square", "filled": true, "opacity": 1, "size": 80, "clip": true},
   "encoding": {"x": {"field": "v", "type": "quantitative", "axis": null}, "y": {"field": "i", "type": "quantitative", "axis": null}, "color": {"field": "s", "type": "nominal"}}},
  {"transform": [{"filter": "datum.s === '1k cycles'"}], "mark": {"type": "point", "shape": "circle", "filled": true, "opacity": 1, "size": 80, "clip": true},
   "encoding": {"x": {"field": "v", "type": "quantitative", "axis": null}, "y": {"field": "i", "type": "quantitative", "axis": null}, "color": {"field": "s", "type": "nominal"}}},
  {"transform": [{"filter": "datum.s === '3k cycles'"}], "mark": {"type": "point", "shape": "triangle-up", "filled": true, "opacity": 1, "size": 80, "clip": true},
   "encoding": {"x": {"field": "v", "type": "quantitative", "axis": null}, "y": {"field": "i", "type": "quantitative", "axis": null}, "color": {"field": "s", "type": "nominal"}}},
  {"transform": [{"filter": "datum.s === '5k cycles'"}], "mark": {"type": "point", "shape": "triangle-down", "filled": true, "opacity": 1, "size": 80, "clip": true},
   "encoding": {"x": {"field": "v", "type": "quantitative", "axis": null}, "y": {"field": "i", "type": "quantitative", "axis": null}, "color": {"field": "s", "type": "nominal"}}},
  {"transform": [{"filter": "datum.s === '10k cycles'"}], "mark": {"type": "point", "shape": "diamond", "filled": true, "opacity": 1, "size": 95, "clip": true},
   "encoding": {"x": {"field": "v", "type": "quantitative", "axis": null}, "y": {"field": "i", "type": "quantitative", "axis": null}, "color": {"field": "s", "type": "nominal"}}},
  {"data": {"values": [{"t": "Bending"}]},
   "mark": {"type": "text", "align": "left", "baseline": "middle", "font": "Liberation Serif", "fontWeight": "bold", "fontSize": 25, "color": "black"},
   "encoding": {"x": {"datum": -12.55, "type": "quantitative", "axis": null}, "y": {"datum": 2.55e-5, "type": "quantitative", "axis": null}, "text": {"field": "t"}}}
 ],
 "resolve": {"axis": {"x": "independent", "y": "independent"}}
}
]
}
